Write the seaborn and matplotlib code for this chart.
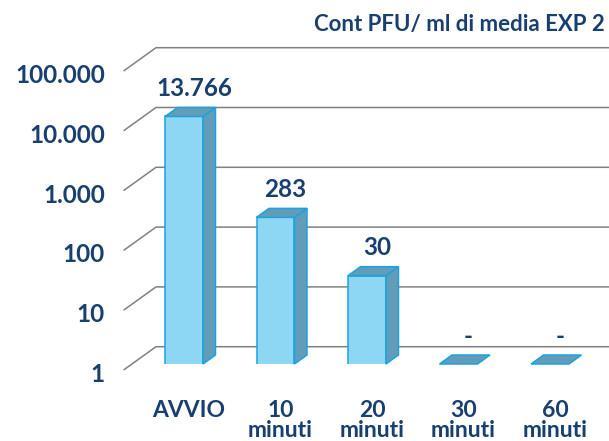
import numpy as np
import pandas as pd
import matplotlib
matplotlib.use("Agg")
import matplotlib.pyplot as plt
import matplotlib.transforms as mtransforms
from matplotlib.patches import Polygon
from matplotlib.lines import Line2D
from matplotlib.ticker import FuncFormatter, NullLocator
import seaborn as sns

# data
categories = ["AVVIO", "10\nminuti", "20\nminuti", "30\nminuti", "60\nminuti"]
pfu_values = [13766, 283, 30, 0, 0]
y_ticks = [1, 10, 100, 1000, 10000, 100000]
title = "Cont PFU/ ml di media EXP 2"

NAVY = "#173f70"
FRONT = "#8dd7f5"
SIDE = "#619db8"
EDGE = "#1ca3df"
GRID = "#808080"


def it_fmt(v):
    return f"{int(round(v)):,}".replace(",", ".")


sns.set_style("white")
plt.rcParams["font.family"] = ["Lato", "DejaVu Sans"]

W, H = 609, 441
fig = plt.figure(figsize=(W / 100, H / 100), dpi=100)

# front plane of the bars, in pixels (top-down)
left_px, right_px = 132, 609
floor_px, top_px = 364, 364 - 5 * 59.8
ax = fig.add_axes([left_px / W, 1 - floor_px / H,
                   (right_px - left_px) / W, (floor_px - top_px) / H])
ax.set_yscale("log")

df = pd.DataFrame({"cat": categories, "pfu": pfu_values})
sns.barplot(data=df, x="cat", y="pfu", ax=ax, color=FRONT, saturation=1,
            width=0.415, edgecolor=EDGE, linewidth=1.1, errorbar=None, zorder=3)

step = 91.5
ax.set_xlim(-(184 - left_px) / step, (right_px - 184) / step)
ax.set_ylim(1, 1e5)
for s in ax.spines.values():
    s.set_visible(False)
ax.grid(False)
ax.set_xlabel("")
ax.set_ylabel("")

# y ticks
ax.set_yticks(y_ticks)
ax.yaxis.set_minor_locator(NullLocator())
ax.yaxis.set_major_formatter(FuncFormatter(lambda v, p: it_fmt(v)))
ax.tick_params(axis="y", length=0, pad=27 * 0.72, labelsize=17.5, labelcolor=NAVY)
ax.tick_params(axis="x", length=0, pad=36 * 0.72, labelsize=16.5, labelcolor=NAVY)
for lab in ax.get_yticklabels():
    lab.set_fontweight("bold")
    lab.set_transform(lab.get_transform() +
                      mtransforms.ScaledTranslation(0, -8.5 / 100, fig.dpi_scale_trans))
for lab in ax.get_xticklabels():
    lab.set_fontweight("bold")
    lab.set_linespacing(0.95)
    lab.set_transform(lab.get_transform() +
                      mtransforms.ScaledTranslation(5 / 100, 0, fig.dpi_scale_trans))

inv = fig.transFigure.inverted()


def pt(x, y, dx=0.0, dy=0.0):
    d = ax.transData.transform((x, y)) + np.array([dx, dy])
    return inv.transform(d)


# back wall grid lines with the diagonal floor/side edges
x_left = ax.get_xlim()[0]
for t in y_ticks:
    front = pt(x_left, t, -8, -5.7)
    back = pt(x_left, t, 24, 17.3)
    ax.add_line(Line2D([front[0], back[0], 1.0], [front[1], back[1], back[1]],
                       transform=fig.transFigure, color=GRID, lw=1.1,
                       clip_on=False, zorder=1))

# 3d sides and tops of the bars
ddx, ddy = 12.5, 9
for patch, v in zip(ax.patches, pfu_values):
    x0 = patch.get_x()
    x1 = x0 + patch.get_width()
    top = max(v, 1)
    if v > 1:
        side = [pt(x1, 1), pt(x1, top), pt(x1, top, ddx, ddy), pt(x1, 1, ddx, ddy)]
        ax.add_patch(Polygon(side, closed=True, transform=fig.transFigure,
                             facecolor=SIDE, edgecolor=EDGE, lw=1.1,
                             clip_on=False, zorder=3.5))
    topf = [pt(x0, top), pt(x1, top), pt(x1, top, ddx, ddy), pt(x0, top, ddx, ddy)]
    ax.add_patch(Polygon(topf, closed=True, transform=fig.transFigure,
                         facecolor=SIDE, edgecolor=EDGE, lw=1.1,
                         clip_on=False, zorder=3.5))
    label = it_fmt(v) if v > 0 else "-"
    ax.text(x0 + patch.get_width() / 2, top, label,
            transform=ax.transData + mtransforms.ScaledTranslation(10 / 100, 28 / 100, fig.dpi_scale_trans),
            ha="center", va="center", fontsize=17.5, fontweight="bold", color=NAVY)

fig.text(605 / W, 1 - 25 / H, title, ha="right", va="center",
         fontsize=16, fontweight="bold", color=NAVY)

fig.savefig("out.png", dpi=100)
